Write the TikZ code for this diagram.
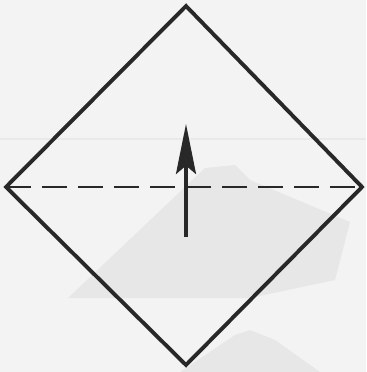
\documentclass[tikz,border=0pt]{standalone}
\usepackage{tikz}
\usetikzlibrary{arrows.meta}
\definecolor{ink}{HTML}{282828}
\definecolor{paper}{HTML}{F3F3F3}
\definecolor{bleed}{HTML}{E7E7E7}

\begin{document}
\begin{tikzpicture}[
  x=0.03cm, y=-0.03cm,
  edge/.style={draw=ink, line width=3.3pt, line join=miter},
  valley/.style={draw=ink, line width=2pt, dash pattern=on 0.75cm off 0.33cm},
  foldarrow/.style={draw=ink, line width=2.8pt, -{Stealth[length=1.5cm, width=0.6cm, inset=0.25cm]}},
  >=Stealth
]
  % paper and show-through from the back of the page
  \fill[paper] (0,0) rectangle (366,372);
  \useasboundingbox (0,0) rectangle (366,372);
  \fill[bleed] (68,298) -- (205,168) -- (235,165) -- (250,180) -- (350,222)
    -- (335,280) -- (250,298) -- cycle;
  \fill[bleed] (180,372) -- (235,335) -- (250,330) -- (275,340) -- (320,372) -- cycle;
  \draw[bleed!80!paper, line width=1pt] (0,139) -- (366,139);

  % square, corner up
  \coordinate (top) at (186,6);
  \coordinate (left) at (6,187);
  \coordinate (right) at (362,187);
  \coordinate (bottom) at (186,365);
  \draw[edge] (top) -- (right) -- (bottom) -- (left) -- cycle;

  % fold line and arrow
  \draw[valley] (left) -- (right);
  \coordinate (tail) at (186,237);
  \coordinate (tip) at (186,124);
  \draw[foldarrow] (tail) -- (tip);
\end{tikzpicture}
\end{document}
